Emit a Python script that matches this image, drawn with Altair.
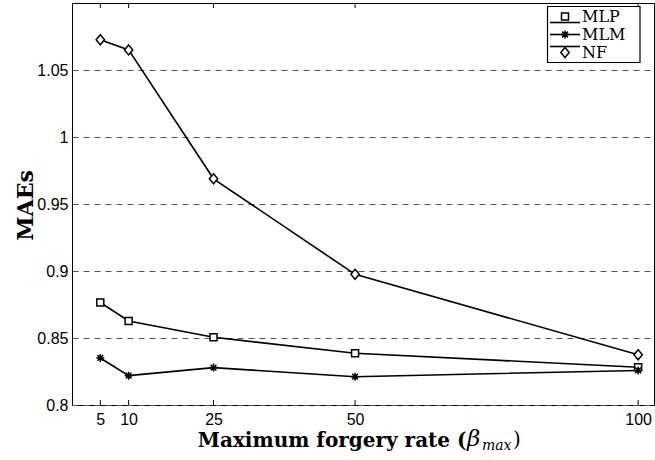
import altair as alt
import pandas as pd

# Maximum forgery rate values on the x axis
beta = [5, 10, 25, 50, 100]
series_names = ["MLP", "MLM", "NF"]

# Mean absolute errors per method
mae_mlp = [0.8765, 0.8627, 0.8505, 0.8386, 0.8282]
mae_mlm = [0.8351, 0.8219, 0.8279, 0.8211, 0.8258]
mae_nf = [1.0726, 1.0650, 0.9688, 0.8975, 0.8375]

y_ticks = [0.8, 0.85, 0.9, 0.95, 1.0, 1.05]
x_ticks = [5, 10, 25, 50, 100]

rows = []
for name, vals in zip(series_names, [mae_mlp, mae_mlm, mae_nf]):
    for b, v in zip(beta, vals):
        rows.append({"beta": b, "mae": v, "series": name})
df = pd.DataFrame(rows)
legend_df = pd.DataFrame({"series": series_names, "row": [0, 1, 2]})

W, H = 582, 402

# marker outlines (unit square, scaled by the point size)
marker_paths = [
    "M-0.7,-0.7H0.7V0.7H-0.7Z",
    "M0,-0.8V0.8M-0.8,0H0.8M-0.57,-0.57L0.57,0.57M-0.57,0.57L0.57,-0.57",
    "M0,-1L0.84,0L0,1L-0.84,0Z",
]
shape_scale = alt.Scale(domain=series_names, range=marker_paths)

x_scale = alt.Scale(domain=[0, 102.8], nice=False, zero=False)
y_scale = alt.Scale(domain=[0.8, 1.1], nice=False, zero=False)

x_enc = alt.X(
    "beta:Q",
    scale=x_scale,
    axis=alt.Axis(
        values=x_ticks, format="d", grid=False, ticks=False, domain=False,
        labelFont="Liberation Sans", labelFontSize=16, labelColor="black",
        labelPadding=6,
        title="Maximum forgery rate (", titleFont="DejaVu Serif",
        titleFontWeight="bold", titleFontSize=20, titleColor="black",
        titleX=394, titleY=41, titleAlign="right", titleBaseline="alphabetic",
    ),
)
y_enc = alt.Y(
    "mae:Q",
    scale=y_scale,
    axis=alt.Axis(
        values=y_ticks, format="~g", grid=True, gridDash=[6, 5],
        gridColor="#555555", gridWidth=1, ticks=False, domain=False,
        labelFont="Liberation Sans", labelFontSize=16, labelColor="black",
        labelPadding=4,
        title="MAEs", titleFont="DejaVu Serif", titleFontWeight="bold",
        titleFontSize=22, titleColor="black", titleAngle=270,
        titleX=-40, titleY=202, titleAlign="center", titleBaseline="alphabetic",
    ),
)

lines = alt.Chart(df).mark_line(color="black", strokeWidth=1.6).encode(
    x=x_enc, y=y_enc, detail="series:N"
)

points = alt.Chart(df).mark_point(
    filled=True, fill="white", stroke="black", strokeWidth=1.5, size=100, opacity=1
).encode(
    x="beta:Q",
    y=alt.Y("mae:Q", scale=y_scale, axis=None),
    shape=alt.Shape("series:N", scale=shape_scale, legend=None),
)

# inward tick marks on the bottom and top edges
tick_df = pd.DataFrame({"beta": x_ticks})
ticks_bottom = alt.Chart(tick_df).mark_rule(color="black", strokeWidth=1).encode(
    x="beta:Q", y=alt.value(H - 5), y2=alt.value(H)
)
ticks_top = alt.Chart(tick_df).mark_rule(color="black", strokeWidth=1).encode(
    x="beta:Q", y=alt.value(0), y2=alt.value(5)
)

# legend: boxed list of line + marker samples in the upper right corner
row_y = alt.Y(
    "row:O", scale=alt.Scale(domain=[0, 1, 2], range=[13.5, 49.5], padding=0),
    axis=None,
)
row_text_y = alt.Y(
    "row:O", scale=alt.Scale(domain=[0, 1, 2], range=[19.3, 55.3], padding=0),
    axis=None,
)
legend_box = alt.Chart(pd.DataFrame({"k": [0]})).mark_rect(
    fill="white", stroke="black", strokeWidth=1.2
).encode(x=alt.value(475.5), x2=alt.value(568), y=alt.value(3.5), y2=alt.value(59.5))
legend_lines = alt.Chart(legend_df).mark_rule(color="black", strokeWidth=1.6).encode(
    x=alt.value(478), x2=alt.value(508), y=row_y
)
legend_marks = alt.Chart(legend_df).mark_point(
    filled=True, fill="white", stroke="black", strokeWidth=1.5, size=100, opacity=1
).encode(
    x=alt.value(493), y=row_y,
    shape=alt.Shape("series:N", scale=shape_scale, legend=None),
)
legend_text = alt.Chart(legend_df).mark_text(
    font="DejaVu Serif", fontSize=16, color="black", align="left",
    baseline="alphabetic",
).encode(text="series:N", x=alt.value(510), y=row_text_y)

# remaining pieces of the x-axis title: italic beta with a "max" subscript
beta_sym = alt.Chart(pd.DataFrame({"t": ["β"]})).mark_text(
    font="DejaVu Serif", fontStyle="italic", fontSize=23, color="black",
    align="left", baseline="alphabetic",
).encode(text="t:N", x=alt.value(395), y=alt.value(443))
beta_sub = alt.Chart(pd.DataFrame({"t": ["max"]})).mark_text(
    font="DejaVu Serif", fontStyle="italic", fontSize=14, color="black",
    align="left", baseline="alphabetic",
).encode(text="t:N", x=alt.value(410), y=alt.value(447))
close_paren = alt.Chart(pd.DataFrame({"t": [")"]})).mark_text(
    font="DejaVu Serif", fontSize=20, color="black",
    align="left", baseline="alphabetic",
).encode(text="t:N", x=alt.value(441), y=alt.value(443))

chart = (
    alt.layer(lines, points, ticks_bottom, ticks_top,
              legend_box, legend_lines, legend_marks, legend_text,
              beta_sym, beta_sub, close_paren)
    .resolve_scale(y="independent")
    .properties(
        width=W, height=H,
        autosize=alt.AutoSizeParams(type="none"),
        padding={"left": 72, "top": 3, "right": 1, "bottom": 55},
        background="white",
    )
    .configure_view(stroke="black", strokeWidth=1)
)

chart.save("out.html", embed_options={"renderer": "svg", "actions": False})
